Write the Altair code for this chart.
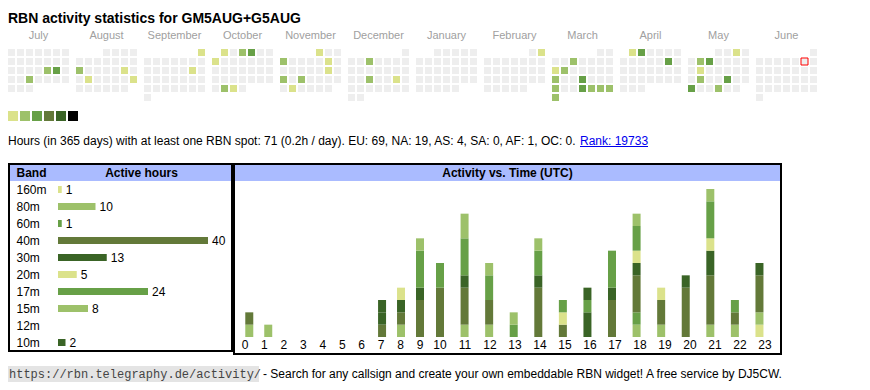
import altair as alt
import pandas as pd
import datetime as dt

FONT = "Liberation Sans"
MONO = "Liberation Mono"

# ---------------- data ----------------
title_text = "RBN activity statistics for GM5AUG+G5AUG"
months = ["July", "August", "September", "October", "November", "December",
          "January", "February", "March", "April", "May", "June"]
month_first = ["2024-07-01", "2024-08-01", "2024-09-01", "2024-10-01", "2024-11-01", "2024-12-01",
               "2025-01-01", "2025-02-01", "2025-03-01", "2025-04-01", "2025-05-01", "2025-06-01"]
today = "2025-06-07"

level_colors = ["#dbe28b", "#9dc16a", "#67a047", "#637939", "#3a6426", "#000000"]
empty_color = "#eeeeee"

active_dates = [
    "2024-07-19", "2024-07-20", "2024-07-24",
    "2024-08-12", "2024-08-17", "2024-08-20", "2024-08-25",
    "2024-09-01", "2024-09-14",
    "2024-10-01", "2024-10-03", "2024-10-04", "2024-10-07", "2024-10-29", "2024-10-30",
    "2024-11-01", "2024-11-04", "2024-11-09", "2024-11-16", "2024-11-18", "2024-11-20", "2024-11-26",
    "2024-12-04", "2024-12-18", "2024-12-21",
    "2025-02-02",
    "2025-03-05", "2025-03-10", "2025-03-11", "2025-03-17", "2025-03-20", "2025-03-24",
    "2025-03-27", "2025-03-28", "2025-03-29", "2025-03-30", "2025-03-31",
    "2025-04-01", "2025-04-02", "2025-04-12",
    "2025-05-03", "2025-05-06", "2025-05-07", "2025-05-13", "2025-05-20", "2025-05-23",
    "2025-05-26", "2025-05-29",
]
active_levels = [
    2, 3, 2,
    2, 1, 1, 1,
    1, 1,
    1, 2, 3, 1, 2, 1,
    1, 2, 1, 1, 2, 2, 1,
    2, 2, 1,
    1,
    2, 1, 2, 2, 3, 2,
    3, 2, 2, 2, 2,
    1, 3, 3,
    1, 2, 3, 1, 2, 3,
    3, 2,
]

stats_text = ("Hours (in 365 days) with at least one RBN spot: 71 (0.2h / day). "
              "EU: 69, NA: 19, AS: 4, SA: 0, AF: 1, OC: 0.")
rank_text = "Rank: 19733"

bands = ["160m", "80m", "60m", "40m", "30m", "20m", "17m", "15m", "12m", "10m"]
band_hours = [1, 10, 1, 40, 13, 5, 24, 8, 0, 2]
band_colors = ["#dbe28b", "#9dc16a", "#67a047", "#637939", "#3a6426",
               "#dbe28b", "#67a047", "#9dc16a", "#637939", "#3a6426"]

hours = list(range(24))
hourly = {
    #        0  1  2  3  4  5  6  7  8  9 10 11 12 13 14 15 16 17 18 19 20 21 22 23
    "160m": [0, 0, 0, 0, 0, 0, 0, 0, 0, 0, 0, 0, 0, 0, 0, 0, 0, 0, 0, 0, 0, 0, 0, 1],
    "80m":  [1, 1, 0, 0, 0, 0, 0, 0, 1, 0, 0, 1, 1, 0, 0, 0, 0, 0, 1, 1, 0, 1, 1, 1],
    "60m":  [0, 0, 0, 0, 0, 0, 0, 0, 0, 0, 0, 0, 0, 0, 0, 0, 0, 0, 1, 0, 0, 0, 0, 0],
    "40m":  [1, 0, 0, 0, 0, 0, 0, 1, 1, 3, 4, 3, 2, 0, 4, 1, 0, 3, 3, 2, 4, 4, 1, 3],
    "30m":  [0, 0, 0, 0, 0, 0, 0, 1, 1, 1, 0, 1, 0, 0, 1, 0, 2, 1, 1, 0, 1, 2, 0, 1],
    "20m":  [0, 0, 0, 0, 0, 0, 0, 0, 1, 0, 0, 0, 0, 0, 0, 1, 0, 0, 1, 1, 0, 1, 0, 0],
    "17m":  [0, 0, 0, 0, 0, 0, 0, 0, 0, 3, 2, 3, 2, 1, 2, 1, 1, 3, 2, 0, 0, 3, 1, 0],
    "15m":  [0, 0, 0, 0, 0, 0, 0, 0, 0, 1, 0, 2, 1, 1, 1, 0, 0, 0, 1, 0, 0, 1, 0, 0],
    "12m":  [0] * 24,
    "10m":  [0, 0, 0, 0, 0, 0, 0, 1, 0, 0, 0, 0, 0, 0, 0, 0, 1, 0, 0, 0, 0, 0, 0, 0],
}

footer_url = "https://rbn.telegraphy.de/activity/"
footer_text = "- Search for any callsign and create your own embeddable RBN widget! A free service by DJ5CW."

# ---------------- tables ----------------
lvl = dict(zip(active_dates, active_levels))
MONTH_PITCH = 68 / 9  # month block pitch in cell units
cal_rows = []
for mi, first in enumerate(month_first):
    d0 = dt.date.fromisoformat(first)
    off = d0.weekday()
    d = d0
    while d.month == d0.month:
        L = lvl.get(d.isoformat(), 0)
        cal_rows.append(dict(
            date=d.isoformat(),
            gx=mi * MONTH_PITCH + d.weekday(),
            gy=(off + d.day - 1) // 7,
            color=empty_color if L == 0 else level_colors[L - 1],
            today=(d.isoformat() == today),
        ))
        d += dt.timedelta(days=1)
cal = pd.DataFrame(cal_rows)
cal["gx2"] = cal["gx"] + 7 / 9
cal["gy2"] = cal["gy"] + 7 / 9

mon = pd.DataFrame({"m": range(12), "name": months})
leg = pd.DataFrame({"lv": range(6), "color": level_colors})
leg["lv2"] = leg["lv"] + 10 / 12

bt = pd.DataFrame({"band": bands, "hours": band_hours, "color": band_colors})

act_rows = []
for bi, b in enumerate(bands):
    for h, c in zip(hours, hourly[b]):
        if c > 0:
            act_rows.append(dict(hour=h, band=b, bi=bi, count=c, color=band_colors[bi]))
act = pd.DataFrame(act_rows)
hrs = pd.DataFrame({"hour": hours})


def sc(domain, rng):
    return alt.Scale(domain=domain, range=rng, nice=False, zero=False)


one = pd.DataFrame({"k": [0]})


def box(x1, x2, y1, y2, **kw):
    return alt.Chart(one).mark_rect(**kw).encode(
        x=alt.value(x1), x2=alt.value(x2), y=alt.value(y1), y2=alt.value(y2))


def label(text, x, y, **kw):
    return alt.Chart(pd.DataFrame({"t": [text]})).mark_text(**kw).encode(
        x=alt.value(x), y=alt.value(y), text="t:N")


# ---------------- layers ----------------
title = label(title_text, 0, 15, font=FONT, fontSize=14, fontWeight="bold",
              align="left", baseline="alphabetic", color="#000")

month_labels = alt.Chart(mon).mark_text(
    font=FONT, fontSize=11, color="#a0a0a0", align="center", baseline="alphabetic"
).encode(
    x=alt.X("m:Q", scale=sc([0, 11], [30.5, 778.5]), axis=None),
    y=alt.value(31),
    text="name:N",
)

cal_x = sc([0, 1], [0, 9])
cal_y = sc([0, 1], [41, 50])
cells = alt.Chart(cal).mark_rect().encode(
    x=alt.X("gx:Q", scale=cal_x, axis=None), x2="gx2:Q",
    y=alt.Y("gy:Q", scale=cal_y, axis=None), y2="gy2:Q",
    color=alt.Color("color:N", scale=None),
)
today_mark = alt.Chart(cal).transform_filter("datum.today").mark_rect(
    filled=False, stroke="#ff0000", strokeWidth=1
).encode(
    x=alt.X("gx:Q", scale=cal_x, axis=None), x2="gx2:Q",
    y=alt.Y("gy:Q", scale=cal_y, axis=None), y2="gy2:Q",
)

legend = alt.Chart(leg).mark_rect().encode(
    x=alt.X("lv:Q", scale=sc([0, 1], [0, 12]), axis=None), x2="lv2:Q",
    y=alt.value(103), y2=alt.value(113),
    color=alt.Color("color:N", scale=None),
)

stats = label(stats_text, 0, 136.5, font=FONT, fontSize=12, align="left",
              baseline="alphabetic", color="#000")
rank = label(rank_text, 572, 136.5, font=FONT, fontSize=12, align="left",
             baseline="alphabetic", color="#0000ee")
rank_ul = alt.Chart(one).mark_rule(color="#0000ee", strokeWidth=1).encode(
    x=alt.value(572), x2=alt.value(640), y=alt.value(138.5))

# band table
hdr_bg_l = box(2, 223, 157, 173, fill="#aabbff")
hdr_bg_r = box(227, 772, 157, 173, fill="#aabbff")
band_hdr = label("Band", 8.5, 168.5, font=FONT, fontSize=12, fontWeight="bold",
                 align="left", baseline="alphabetic", color="#000")
hours_hdr = label("Active hours", 133.5, 168.5, font=FONT, fontSize=12, fontWeight="bold",
                  align="center", baseline="alphabetic", color="#000")
act_hdr = label("Activity vs. Time (UTC)", 499.5, 168.5, font=FONT, fontSize=12,
                fontWeight="bold", align="center", baseline="alphabetic", color="#000")

band_y = alt.Scale(domain=bands, range=[173, 343], paddingInner=10 / 17, paddingOuter=5 / 17)
band_x = sc([0, 40], [50, 200])
band_names = alt.Chart(bt).mark_text(
    font=FONT, fontSize=12, align="left", baseline="middle", color="#000"
).encode(
    x=alt.value(8.5),
    y=alt.Y("band:N", scale=band_y, axis=None),
    text="band:N",
)
band_bars = alt.Chart(bt).transform_filter("datum.hours > 0").mark_bar().encode(
    x=alt.X("hours:Q", scale=band_x, axis=None),
    y=alt.Y("band:N", scale=band_y, axis=None),
    color=alt.Color("color:N", scale=None),
)
band_vals = alt.Chart(bt).transform_filter("datum.hours > 0").mark_text(
    font=FONT, fontSize=12, align="left", baseline="middle", dx=4, color="#000"
).encode(
    x=alt.X("hours:Q", scale=band_x, axis=None),
    y=alt.Y("band:N", scale=band_y, axis=None),
    text=alt.Text("hours:Q", format="d"),
)

# activity vs time
hour_x = sc([0, 9, 10, 23], [237, 412, 432, 757])
act_y = sc([0, 12], [329, 181])
act_bars = alt.Chart(act).transform_stack(
    stack="count", groupby=["hour"], as_=["y0", "y1"],
    sort=[alt.SortField("bi", order="ascending")],
).mark_bar(size=8, orient="vertical").encode(
    x=alt.X("hour:Q", scale=hour_x, axis=None),
    y=alt.Y("y0:Q", scale=act_y, axis=None), y2="y1:Q",
    color=alt.Color("color:N", scale=None),
)
hour_labels = alt.Chart(hrs).mark_text(
    font=FONT, fontSize=12, align="center", baseline="alphabetic", color="#000"
).encode(
    x=alt.X("hour:Q", scale=hour_x, axis=None),
    y=alt.value(341.3),
    text=alt.Text("hour:Q", format="d"),
)

border_l = box(1, 224, 156, 343, filled=False, stroke="#000", strokeWidth=2)
border_r = box(226, 773, 156, 346, filled=False, stroke="#000", strokeWidth=2)

# footer
foot_bg = box(0, 251, 358, 374, fill="#e4e4e4")
foot_url = label(footer_url, 1, 370, font=MONO, fontSize=12, align="left",
                 baseline="alphabetic", color="#444")
foot_txt = label(footer_text, 255, 370, font=FONT, fontSize=12, align="left",
                 baseline="alphabetic", color="#000")

chart = alt.layer(
    title, month_labels, cells, today_mark, legend, stats, rank, rank_ul,
    hdr_bg_l, hdr_bg_r, band_hdr, hours_hdr, act_hdr,
    band_names, band_bars, band_vals, act_bars, hour_labels,
    border_l, border_r, foot_bg, foot_url, foot_txt,
).resolve_scale(
    x="independent", y="independent"
).properties(
    width=854, height=376, padding=0,
    autosize=alt.AutoSizeParams(type="none"),
    background="white",
).configure_view(stroke=None)

chart.save("out.html", embed_options={"renderer": "svg", "actions": False})
